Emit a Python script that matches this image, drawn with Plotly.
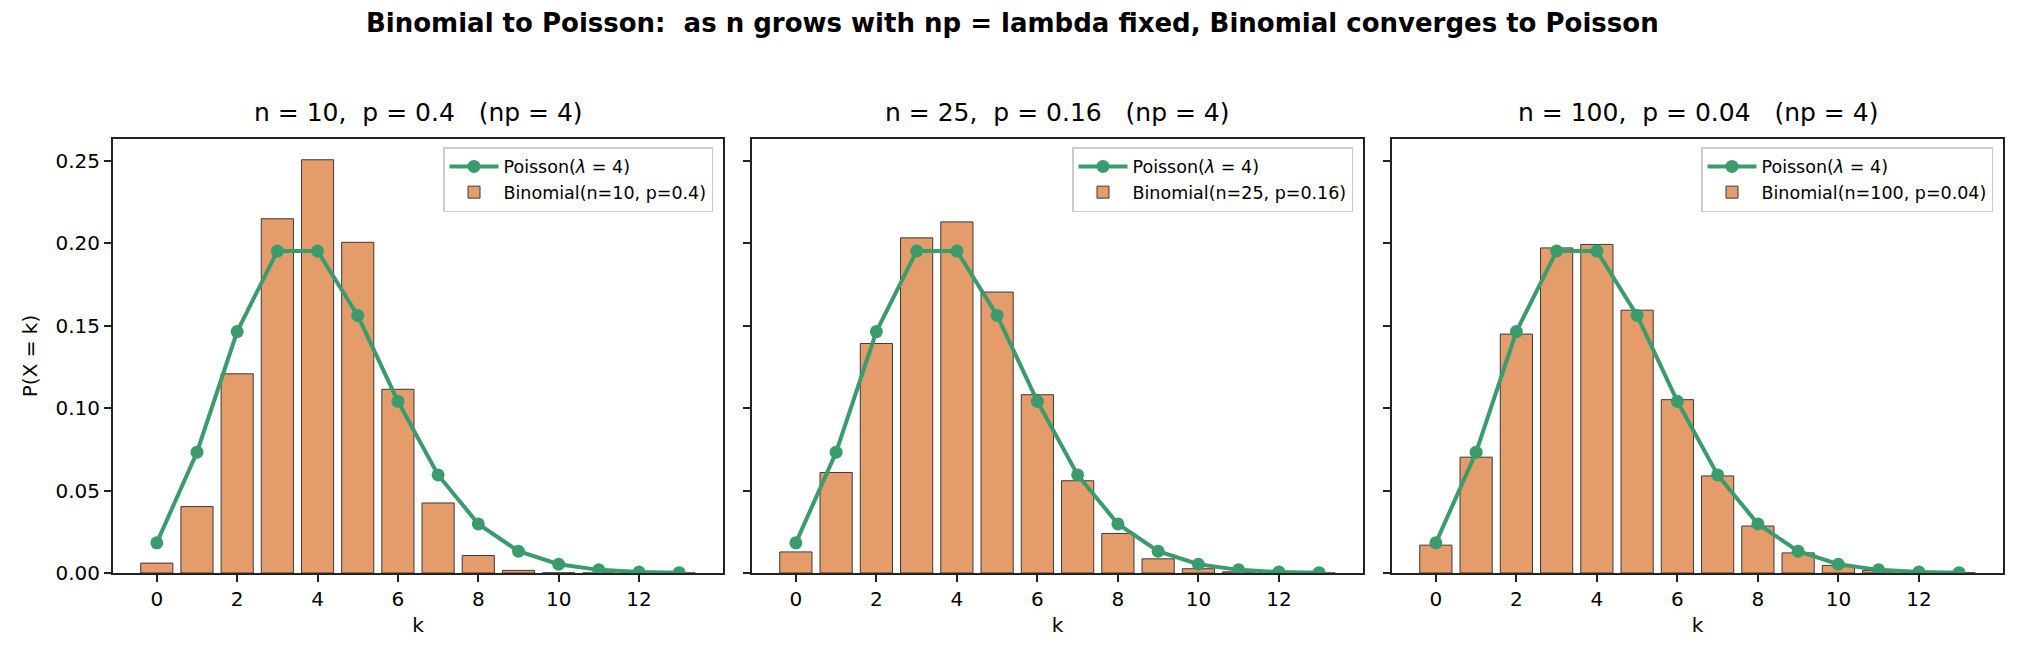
import plotly.graph_objects as go

k_values = list(range(14))

poisson_pmf = [0.0183, 0.0733, 0.1465, 0.1954, 0.1954, 0.1563, 0.1042,
               0.0595, 0.0298, 0.0132, 0.0053, 0.0019, 0.0006, 0.0002]

binom_n10_p040 = [0.0060, 0.0403, 0.1209, 0.2150, 0.2508, 0.2007, 0.1115,
                  0.0425, 0.0106, 0.0016, 0.0001, 0.0, 0.0, 0.0]
binom_n25_p016 = [0.0128, 0.0610, 0.1393, 0.2034, 0.2131, 0.1705, 0.1082,
                  0.0560, 0.0240, 0.0086, 0.0026, 0.0007, 0.0002, 0.0000]
binom_n100_p004 = [0.0169, 0.0703, 0.1450, 0.1973, 0.1994, 0.1595, 0.1052,
                   0.0589, 0.0285, 0.0122, 0.0046, 0.0016, 0.0005, 0.0001]

panel_titles = ["n = 10,\u00a0 p = 0.4 \u00a0\u00a0(np = 4)",
                "n = 25,\u00a0 p = 0.16 \u00a0\u00a0(np = 4)",
                "n = 100,\u00a0 p = 0.04 \u00a0\u00a0(np = 4)"]
binom_labels = ["Binomial(n=10, p=0.4)", "Binomial(n=25, p=0.16)",
                "Binomial(n=100, p=0.04)"]
poisson_label = "Poisson(<i>λ</i> = 4)"
binom_series = [binom_n10_p040, binom_n25_p016, binom_n100_p004]

x_ticks = [0, 2, 4, 6, 8, 10, 12]
y_ticks = [0.0, 0.05, 0.10, 0.15, 0.20, 0.25]
y_tick_text = ["0.00", "0.05", "0.10", "0.15", "0.20", "0.25"]

W, H = 2025, 660
BAR_COLOR = "#E59C6B"
LINE_COLOR = "#3A9B6D"
FONT = "DejaVu Sans"
TICK_SIZE = 20

panel_px = [(113, 723), (752, 1363), (1392, 2003)]
top_px, bot_px = 139, 573
ydom = [(H - bot_px) / H, (H - top_px) / H]

fig = go.Figure()
layout = dict(
    width=W, height=H, margin=dict(l=0, r=0, t=0, b=0),
    paper_bgcolor="white", plot_bgcolor="white",
    font=dict(family=FONT, color="#000000", size=TICK_SIZE),
    showlegend=True, bargap=0.2,
)

annotations = []
for i in range(3):
    sfx = "" if i == 0 else str(i + 1)
    xa, ya = "x" + sfx, "y" + sfx
    lg = "legend" + sfx
    fig.add_trace(go.Bar(
        x=k_values, y=binom_series[i], name=binom_labels[i], width=0.8,
        marker=dict(color=BAR_COLOR, line=dict(color="#3a3a3a", width=1)),
        xaxis=xa, yaxis=ya, legend=lg,
    ))
    fig.add_trace(go.Scatter(
        x=k_values, y=poisson_pmf, name=poisson_label, mode="lines+markers",
        line=dict(color=LINE_COLOR, width=4),
        marker=dict(color=LINE_COLOR, size=13),
        xaxis=xa, yaxis=ya, legend=lg,
    ))
    x0, x1 = panel_px[i]
    layout["xaxis" + sfx] = dict(
        domain=[x0 / W, x1 / W], range=[-1.09, 14.09], anchor=ya,
        automargin=False,
        tickvals=x_ticks, ticks="outside", ticklen=7, tickwidth=1.6,
        tickcolor="#222", showline=True, linecolor="#222", linewidth=2,
        mirror=True, showgrid=False, zeroline=False,
        tickfont=dict(size=TICK_SIZE, family=FONT),
        title=dict(text="k", font=dict(size=TICK_SIZE, family=FONT), standoff=8),
    )
    ydict = dict(
        domain=ydom, range=[0, 0.2634], anchor=xa, automargin=False,
        tickvals=y_ticks, ticktext=y_tick_text, ticks="outside", ticklen=7,
        tickwidth=1.6, tickcolor="#222", showline=True, linecolor="#222",
        linewidth=2, mirror=True, showgrid=False, zeroline=False,
        tickfont=dict(size=TICK_SIZE, family=FONT),
    )
    if i == 0:
        ydict["title"] = dict(text="P(X = k)", font=dict(size=TICK_SIZE, family=FONT),
                              standoff=12)
    else:
        ydict["showticklabels"] = False
        ydict["matches"] = "y"
    layout["yaxis" + sfx] = ydict
    layout[lg] = dict(
        x=(x1 - 10) / W, y=(H - top_px - 8) / H, xanchor="right", yanchor="top",
        xref="paper", yref="paper",
        bgcolor="rgba(255,255,255,0.8)", bordercolor="#cccccc", borderwidth=1.5,
        font=dict(size=17.5, family=FONT), traceorder="reversed",
        itemwidth=49, tracegroupgap=2,
    )
    annotations.append(dict(
        text=panel_titles[i], x=(x0 + x1) / 2 / W, y=(H - top_px + 10) / H,
        xref="paper", yref="paper", xanchor="center", yanchor="bottom",
        showarrow=False, font=dict(size=25, family=FONT),
    ))

annotations.append(dict(
    text="<b>Binomial to Poisson:\u00a0 as n grows with np = lambda fixed, Binomial converges to Poisson</b>",
    x=0.5, y=(H - 23) / H, xref="paper", yref="paper", xanchor="center",
    yanchor="middle", showarrow=False, font=dict(size=26, family=FONT),
))
layout["annotations"] = annotations
fig.update_layout(**layout)

fig.write_html("out.html")
